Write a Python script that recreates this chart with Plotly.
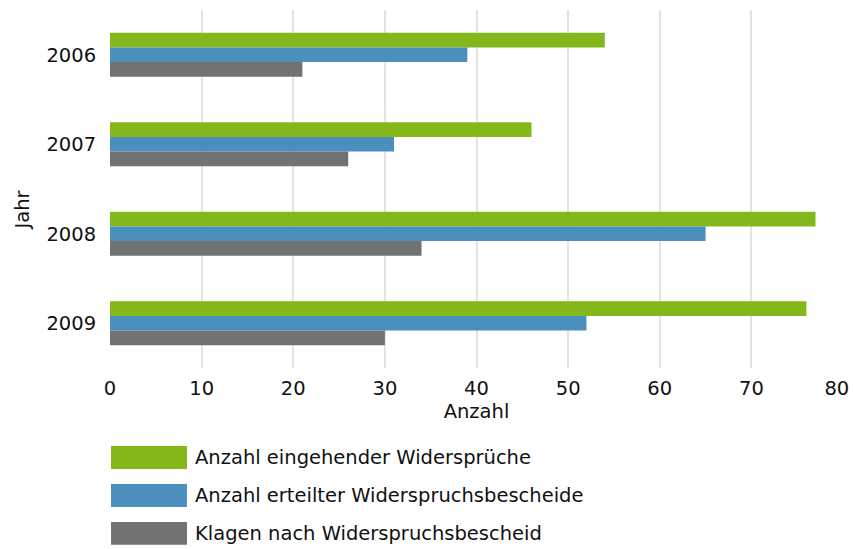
import plotly.graph_objects as go

years = ["2006", "2007", "2008", "2009"]
series_names = [
    "Anzahl eingehender Widersprüche",
    "Anzahl erteilter Widerspruchsbescheide",
    "Klagen nach Widerspruchsbescheid",
]
eingehend = [54, 46, 77, 76]
erteilt = [39, 31, 65, 52]
klagen = [21, 26, 34, 30]
colors = ["#84b71a", "#4a8fbe", "#717274"]
x_ticks = [0, 10, 20, 30, 40, 50, 60, 70, 80]
# last label is nudged left (as in the reference) so it stays inside the window
x_tick_labels = ["0", "10", "20", "30", "40", "50", "60", "70", "80\u00a0\u00a0"]

FONT = "DejaVu Sans"
FS = 19.5

fig = go.Figure()
for name, vals, col in zip(series_names, [eingehend, erteilt, klagen], colors):
    fig.add_trace(go.Bar(
        y=years, x=vals, name=name, orientation="h",
        marker=dict(color=col, line=dict(width=0)),
        showlegend=False,
    ))

# custom legend with large swatches
row_y = [-0.218, -0.324, -0.430]
for i, (name, col) in enumerate(zip(series_names, colors)):
    y0 = row_y[i]
    fig.add_shape(type="rect", xref="paper", yref="paper",
                  x0=0.0014, x1=0.105, y0=y0 - 0.064, y1=y0,
                  fillcolor=col, line=dict(width=0))
    fig.add_annotation(xref="paper", yref="paper", x=0.113, y=y0 - 0.032,
                       text=name, showarrow=False, xanchor="left", yanchor="middle",
                       font=dict(family=FONT, size=FS, color="#111111"))

fig.add_annotation(xref="paper", yref="paper", x=-0.12, y=0.44,
                   text="Jahr", textangle=-90, showarrow=False,
                   xanchor="center", yanchor="middle",
                   font=dict(family=FONT, size=FS, color="#111111"))

fig.update_layout(
    width=853, height=549,
    margin=dict(l=110, r=10, t=10, b=181, autoexpand=False),
    paper_bgcolor="white", plot_bgcolor="white",
    barmode="group", bargap=0.51, bargroupgap=0,
    font=dict(family=FONT, size=FS, color="#111111"),
    xaxis=dict(
        range=[0, 80], tickvals=x_ticks, ticktext=x_tick_labels,
        showgrid=True, automargin=False,
        gridcolor="#e3e3e3", gridwidth=2, zeroline=False,
        showline=False, ticks="outside", ticklen=3, tickcolor="rgba(0,0,0,0)",
        ticklabeloverflow="allow",
        title=dict(text="Anzahl", standoff=2, font=dict(family=FONT, size=FS)),
        tickfont=dict(family=FONT, size=FS),
    ),
    yaxis=dict(
        type="category", categoryorder="array", categoryarray=years,
        autorange="reversed", showgrid=False, zeroline=False, showline=False,
        automargin=False,
        ticks="outside", ticklen=9, tickcolor="rgba(0,0,0,0)",
        tickfont=dict(family=FONT, size=FS),
    ),
)

# remove the default 8px page margin so the figure fills the window exactly
fig.write_html(
    "out.html",
    config={"displayModeBar": False},
    post_script="document.body.style.margin='0';document.body.style.overflow='hidden';",
)
